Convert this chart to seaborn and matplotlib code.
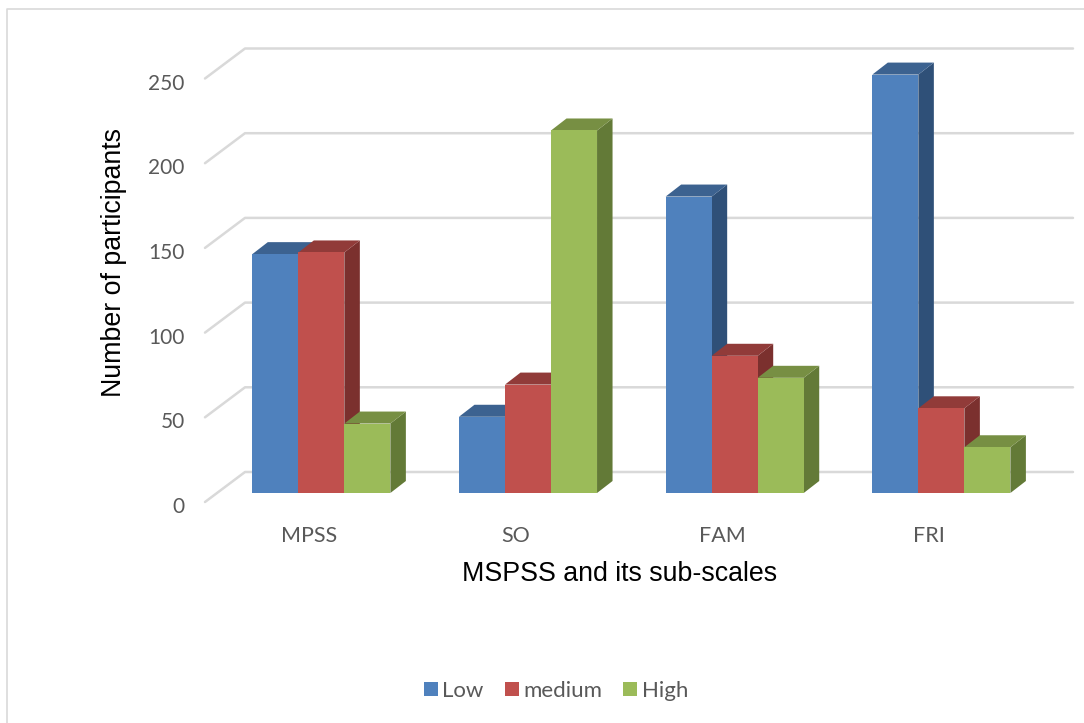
import pandas as pd
import matplotlib
matplotlib.use("Agg")
import matplotlib.pyplot as plt
from matplotlib.lines import Line2D
from matplotlib.patches import Polygon
from matplotlib.transforms import ScaledTranslation
import seaborn as sns

scales = ["MPSS", "SO", "FAM", "FRI"]
levels = ["Low", "medium", "High"]
low = [141, 45, 175, 247]
medium = [142, 64, 81, 50]
high = [41, 214, 68, 27]
y_ticks = [0, 50, 100, 150, 200, 250]

front_colors = ["#4F81BD", "#C0504D", "#9BBB59"]
top_colors = ["#3C6290", "#913B39", "#778F43"]
side_colors = ["#2F5078", "#7B302E", "#637A37"]

df = pd.DataFrame({
    "scale": scales * 3,
    "level": [levels[0]] * 4 + [levels[1]] * 4 + [levels[2]] * 4,
    "count": low + medium + high,
})

W, H = 1084, 723
sns.set_theme(style="white")
plt.rcParams["font.family"] = ["Lato", "DejaVu Sans"]

fig = plt.figure(figsize=(W / 100, H / 100), dpi=100)
# front plane of the bars, in pixels
left, right, bottom, top = 218, 1044.7, 493, 69.5
ax = fig.add_axes([left / W, 1 - bottom / H, (right - left) / W, (bottom - top) / H])

sns.barplot(data=df, x="scale", y="count", hue="level", order=scales, hue_order=levels,
            palette=front_colors, saturation=1, width=0.668, gap=0, linewidth=0, ax=ax)
ax.set_xlim(-0.5, 3.5)
ax.set_ylim(0, 250)
sns.despine(ax=ax, left=True, bottom=True)
ax.patch.set_alpha(0)

# pixel -> data sizes for the fake 3D depth
px_x = 4 / (right - left)
px_y = 250 / (bottom - top)
depth_x, depth_y = 15.5 * px_x, 12 * px_y

# back wall gridlines
for v in y_ticks:
    ax.plot([(205 - left) * px_x - 0.5, (245 - left) * px_x - 0.5, (1073 - left) * px_x - 0.5],
            [v - 9 * px_y, v + 21 * px_y, v + 21 * px_y],
            color="#D9D9D9", lw=1.8, clip_on=False, zorder=1)

# side and top faces, drawn left to right so that later bars overlap earlier ones
for h, container in enumerate(ax.containers):
    for c, bar in enumerate(container.patches):
        x0, x1, v = bar.get_x(), bar.get_x() + bar.get_width(), bar.get_height()
        z = 3 + 3 * (3 * c + h)
        side = Polygon([(x1, 0), (x1 + depth_x, depth_y), (x1 + depth_x, v + depth_y), (x1, v)],
                       facecolor=side_colors[h], edgecolor="none", clip_on=False, zorder=z)
        cap = Polygon([(x0, v), (x0 + depth_x, v + depth_y), (x1 + depth_x, v + depth_y), (x1, v)],
                      facecolor=top_colors[h], edgecolor="none", clip_on=False, zorder=z + 1)
        ax.add_patch(side)
        ax.add_patch(cap)
        bar.set_zorder(z + 2)
        bar.set_clip_on(False)

ax.set_yticks(y_ticks)
ax.tick_params(axis="y", length=0, labelsize=15, labelcolor="#595959", pad=24)
ax.tick_params(axis="x", length=0, labelsize=15.5, labelcolor="#595959", pad=24)
for lab in ax.get_yticklabels():
    lab.set_transform(lab.get_transform() + ScaledTranslation(0, -12 / 100, fig.dpi_scale_trans))
for lab in ax.get_xticklabels():
    lab.set_transform(lab.get_transform() + ScaledTranslation(-12 / 100, 0, fig.dpi_scale_trans))

ax.set_ylabel("Number of participants", fontsize=19.3, family="Liberation Sans", color="black")
ax.yaxis.set_label_coords((114 - left) / (right - left), (bottom - 262) / (bottom - top))
ax.set_xlabel("MSPSS and its sub-scales", fontsize=19.3, family="Liberation Sans", color="black")
ax.xaxis.set_label_coords((620 - left) / (right - left), (bottom - 574) / (bottom - top))
ax.xaxis.label.set_va("center")
ax.yaxis.label.set_va("center")

handles, labels = ax.get_legend_handles_labels()
ax.legend(handles, labels, ncol=3, frameon=False, fontsize=16, labelcolor="#595959",
          handlelength=0.63, handleheight=0.63, handletextpad=0.2, columnspacing=0.95,
          loc="center", bbox_to_anchor=(556 / W, 1 - 691 / H), bbox_transform=fig.transFigure)

# chart frame, only the top and left edges show in the crop
fig.add_artist(Line2D([7 / W, 7 / W, 1], [0, 1 - 9 / H, 1 - 9 / H], color="#D9D9D9", lw=1.2))

fig.savefig("out.png", dpi=100)
